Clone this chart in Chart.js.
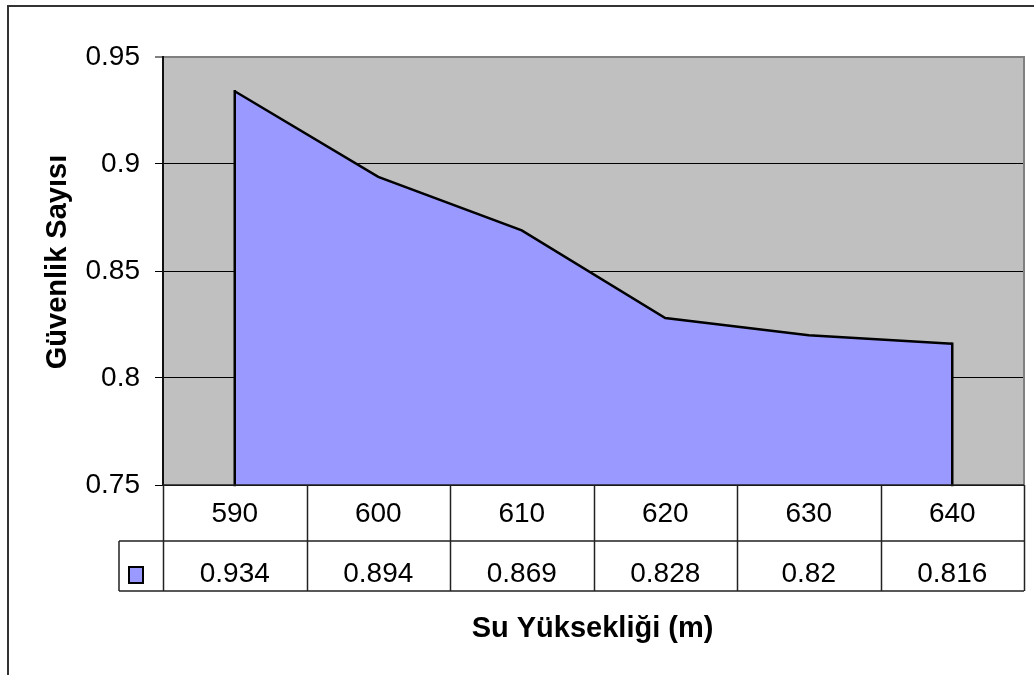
<!DOCTYPE html>
<html>
<head>
<meta charset="utf-8">
<title>Güvenlik Sayısı</title>
<script src="https://cdn.jsdelivr.net/npm/chart.js@4.4.1/dist/chart.umd.min.js"></script>
<style>
  html, body { margin: 0; padding: 0; background: #fff; }
  canvas { display: block; }
</style>
</head>
<body>
<canvas id="chart" width="1034" height="675"></canvas>
<script>
// Water level (m) and the resulting safety factor
const categories = ['590', '600', '610', '620', '630', '640'];
const safetyFactor = [0.934, 0.894, 0.869, 0.828, 0.82, 0.816];
const yTicks = [0.75, 0.8, 0.85, 0.9, 0.95];
const xTitle = 'Su Yüksekliği (m)';
const yTitle = 'Güvenlik Sayısı';

const FONT = '"Liberation Sans", Arial, Helvetica, sans-serif';
const AREA_COLOR = '#9999FF';
const PLOT_BG = '#C0C0C0';
const OUTLINE_W = 2.5;

// Plot background and the outer frame
const framePlugin = {
  id: 'frame',
  beforeDraw(chart) {
    const { ctx, chartArea: a } = chart;
    ctx.save();
    ctx.fillStyle = PLOT_BG;
    ctx.fillRect(a.left, a.top, a.right - a.left, a.bottom - a.top);
    ctx.strokeStyle = '#333';
    ctx.lineWidth = 2;
    ctx.beginPath();
    ctx.moveTo(8, chart.height);
    ctx.lineTo(8, 6);
    ctx.lineTo(chart.width, 6);
    ctx.stroke();
    ctx.restore();
  }
};

// Closes the area outline with vertical edges at the first and last points
const edgePlugin = {
  id: 'areaEdges',
  afterDatasetsDraw(chart) {
    const { ctx, chartArea: a } = chart;
    const pts = chart.getDatasetMeta(0).data;
    if (!pts.length) return;
    ctx.save();
    ctx.strokeStyle = '#000';
    ctx.lineWidth = OUTLINE_W;
    ctx.lineCap = 'square';
    [pts[0], pts[pts.length - 1]].forEach(p => {
      ctx.beginPath();
      ctx.moveTo(p.x, p.y);
      ctx.lineTo(p.x, a.bottom);
      ctx.stroke();
    });
    ctx.restore();
  }
};

// Data table under the plot, axis titles and plot border
const tablePlugin = {
  id: 'dataTable',
  afterDraw(chart) {
    const { ctx, chartArea: a } = chart;
    const xs = chart.scales.x;
    const n = categories.length;
    const colW = (a.right - a.left) / n;
    const row1Top = a.bottom;
    const row2Top = row1Top + 56;
    const row2Bot = row2Top + 50;
    const keyLeft = 119;

    ctx.save();
    // plot border (right side)
    ctx.strokeStyle = '#808080';
    ctx.lineWidth = 2;
    ctx.beginPath();
    ctx.moveTo(a.right, a.top - 1);
    ctx.lineTo(a.right, a.bottom);
    ctx.stroke();

    // table grid
    ctx.strokeStyle = '#222';
    ctx.lineWidth = 1.5;
    ctx.beginPath();
    ctx.moveTo(a.left, row1Top); ctx.lineTo(a.right, row1Top);
    ctx.moveTo(keyLeft, row2Top); ctx.lineTo(a.right, row2Top);
    ctx.moveTo(keyLeft, row2Bot); ctx.lineTo(a.right, row2Bot);
    ctx.moveTo(keyLeft, row2Top); ctx.lineTo(keyLeft, row2Bot);
    for (let i = 0; i <= n; i++) {
      const x = Math.round(a.left + i * colW) + 0.5;
      ctx.moveTo(x, row1Top); ctx.lineTo(x, row2Bot);
    }
    ctx.stroke();

    // legend key
    ctx.fillStyle = AREA_COLOR;
    ctx.fillRect(129, 567, 14, 16);
    ctx.strokeStyle = '#000';
    ctx.lineWidth = 2;
    ctx.strokeRect(129, 567, 14, 16);

    // cell texts
    ctx.fillStyle = '#000';
    ctx.font = '28px ' + FONT;
    ctx.textAlign = 'center';
    ctx.textBaseline = 'alphabetic';
    categories.forEach((c, i) => {
      const cx = xs.getPixelForValue(i);
      ctx.fillText(c, cx, row1Top + 36.5);
      ctx.fillText(String(safetyFactor[i]), cx, row2Top + 40.5);
    });

    // axis titles
    ctx.font = 'bold 29px ' + FONT;
    ctx.fillText(xTitle, (a.left + a.right) / 2 - 1, 637);
    ctx.translate(66, 262);
    ctx.rotate(-Math.PI / 2);
    ctx.fillText(yTitle, 0, 0);
    ctx.restore();
  }
};

new Chart(document.getElementById('chart'), {
  type: 'line',
  data: {
    labels: categories,
    datasets: [{
      data: safetyFactor,
      fill: 'start',
      backgroundColor: AREA_COLOR,
      borderColor: '#000',
      borderWidth: OUTLINE_W,
      pointRadius: 0,
      tension: 0
    }]
  },
  options: {
    responsive: false,
    animation: false,
    devicePixelRatio: 1,
    layout: { padding: { left: 0, top: 57, right: 10, bottom: 190 } },
    plugins: { legend: { display: false }, tooltip: { enabled: false } },
    scales: {
      x: { type: 'category', offset: true, display: false },
      y: {
        min: 0.75,
        max: 0.95,
        afterBuildTicks(scale) { scale.ticks = yTicks.map(v => ({ value: v })); },
        afterFit(scale) { scale.width = 163; },
        ticks: {
          font: { family: FONT, size: 28 },
          color: '#000',
          padding: 15,
          callback: v => String(v)
        },
        grid: {
          color: c => (c.tick && c.tick.value === 0.95) ? '#808080' : '#000',
          lineWidth: c => (c.tick && c.tick.value === 0.95) ? 2 : 1,
          tickLength: 8
        },
        border: { display: true, color: '#111', width: 2 }
      }
    }
  },
  plugins: [framePlugin, edgePlugin, tablePlugin]
});
</script>
</body>
</html>
